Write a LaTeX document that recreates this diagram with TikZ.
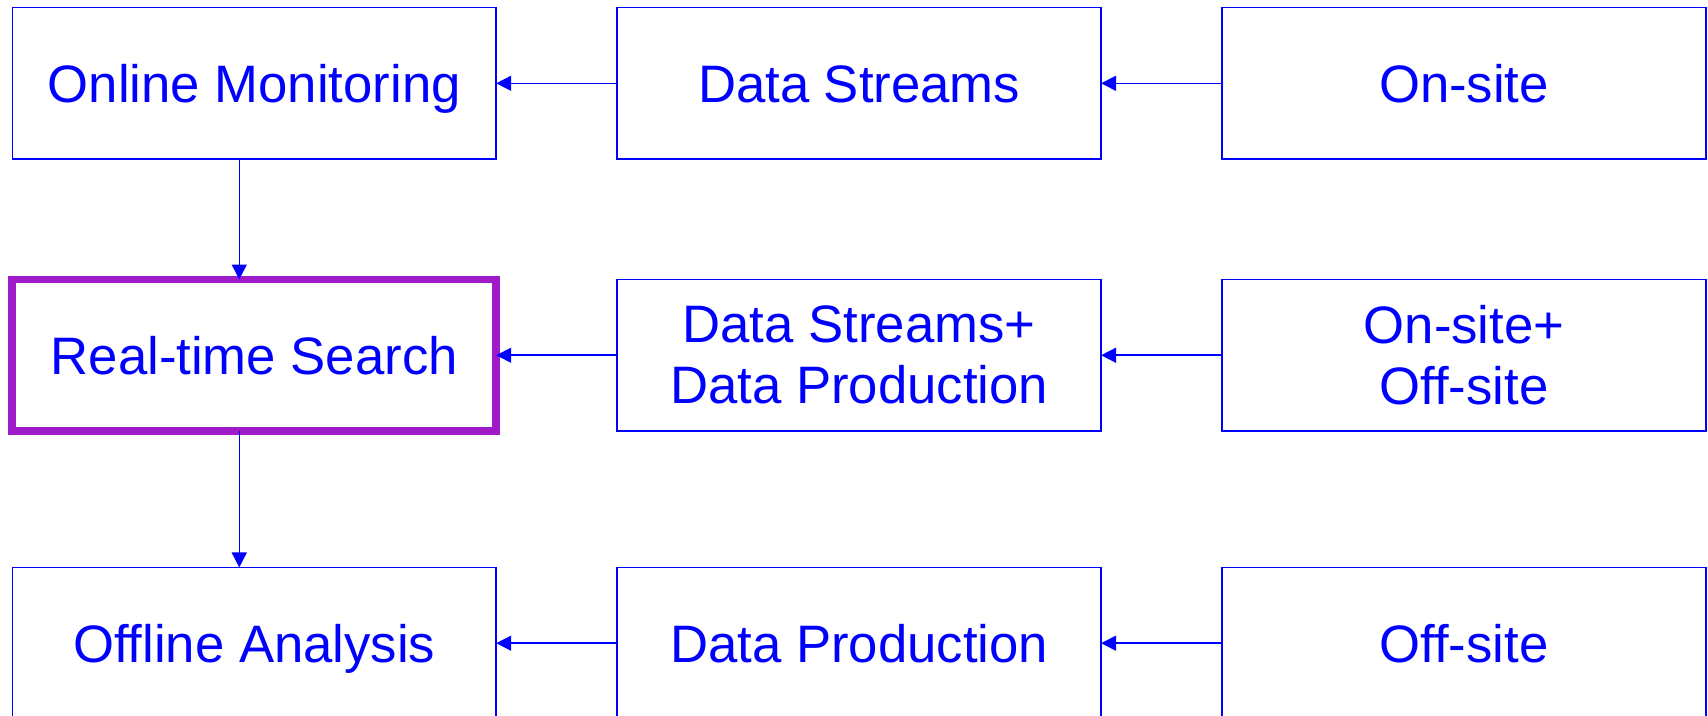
\documentclass[tikz,border=0pt]{standalone}
\usepackage{fontspec}
\setmainfont{Liberation Sans}
\usetikzlibrary{positioning, arrows.meta}
\definecolor{flowblue}{RGB}{0,0,255}
\definecolor{rtpurple}{RGB}{160,27,200}

\begin{document}
\begin{tikzpicture}[x=0.02cm, y=-0.02cm]
\tikzstyle{main}=[rectangle, draw=flowblue, line width=0.85pt, text=flowblue, minimum width=9.68cm, minimum height=3.03cm, inner sep=0pt, outer sep=0pt, align=center, font=\fontsize{30}{34.7}\selectfont]
\tikzstyle{one}=[text height=21.5pt, text depth=0pt]
\tikzstyle{hot}=[draw=rtpurple, line width=4.5pt]
\tikzstyle{connect}=[-{Triangle[length=3mm, width=3mm]}, draw=flowblue, line width=0.85pt]
    \useasboundingbox (0,0) rectangle (1708,716);
    \node[main, one] (OM) at (254.25,83.3) {Online Monitoring};
    \node[main, one] (DS) [right=2.42cm of OM] {Data Streams};
    \node[main, one] (ON) [right=2.42cm of DS] {On-site};
    \node[main, hot, one] (RT) [below=2.41cm of OM] {Real-time Search};
    \node[main] (DSP) [right=2.42cm of RT] {Data Streams+\\Data Production};
    \node[main] (ONF) [right=2.42cm of DSP] {On-site+\\Off-site};
    \node[main, one] (OA) [below=2.73cm of RT] {Offline Analysis};
    \node[main, one] (DP) [right=2.42cm of OA] {Data Production};
    \node[main, one] (OF) [right=2.42cm of DP] {Off-site};
    \path (DS) edge [connect] (OM)
          (ON) edge [connect] (DS)
          (DSP) edge [connect] (RT)
          (ONF) edge [connect] (DSP)
          (DP) edge [connect] (OA)
          (OF) edge [connect] (DP);
    \draw[connect] ([xshift=-3mm]OM.south) -- ([xshift=-3mm]RT.north);
    \draw[connect] ([xshift=-3mm]RT.south) -- ([xshift=-3mm]OA.north);
\end{tikzpicture}
\end{document}
